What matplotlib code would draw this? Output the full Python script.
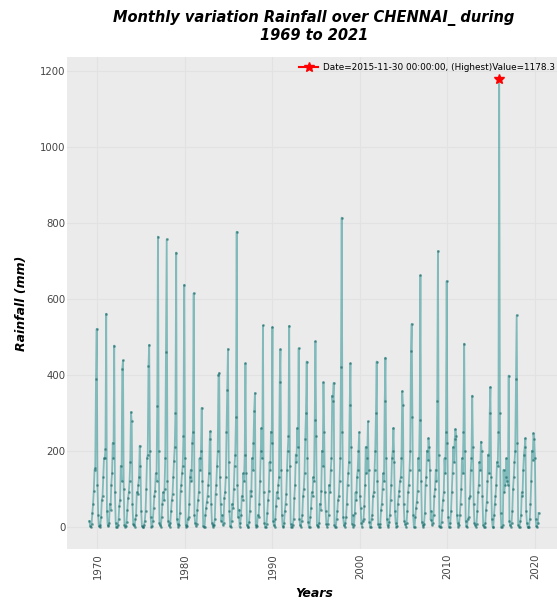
import pandas as pd
import matplotlib
matplotlib.use("Agg")
import matplotlib.pyplot as plt

# monthly rainfall (mm), Jan..Dec
start_month = "1969-01"
rain_1969_1979 = [
    15, 2, 0, 8, 35, 60, 95, 150, 155, 390, 521, 110,
    30, 1, 0, 5, 25, 70, 80, 130, 180, 180, 205, 561,
    40, 5, 2, 10, 60, 45, 110, 140, 220, 180, 477, 90,
    10, 0, 0, 3, 20, 55, 70, 160, 120, 414, 438, 100,
    5, 0, 1, 12, 45, 75, 90, 120, 170, 302, 277, 60,
    8, 3, 0, 20, 30, 90, 85, 110, 130, 213, 160, 40,
    2, 0, 0, 5, 15, 40, 100, 180, 190, 422, 479, 200,
    25, 0, 2, 15, 50, 80, 95, 140, 120, 317, 764, 200,
    10, 3, 0, 25, 60, 90, 70, 100, 180, 461, 757, 120,
    15, 5, 0, 10, 40, 70, 85, 130, 174, 210, 300, 722,
    20, 8, 0, 5, 35, 95, 110, 140, 160, 240, 637, 180,
]
rain_1980_1989 = [
    5, 0, 1, 20, 25, 60, 130, 150, 120, 220, 250, 615,
    30, 10, 2, 8, 45, 70, 90, 180, 150, 200, 313, 120,
    2, 0, 0, 30, 50, 65, 80, 110, 140, 230, 251, 60,
    10, 3, 0, 5, 20, 85, 110, 160, 200, 400, 405, 130,
    60, 15, 30, 5, 10, 75, 90, 130, 250, 360, 468, 170,
    40, 2, 0, 15, 60, 50, 100, 160, 190, 290, 777, 110,
    25, 45, 0, 10, 30, 80, 70, 140, 120, 190, 430, 140,
    5, 0, 0, 12, 40, 95, 80, 180, 150, 220, 304, 352,
    3, 0, 2, 30, 25, 60, 120, 200, 260, 180, 530, 90,
    10, 0, 0, 8, 35, 70, 95, 170, 150, 250, 220, 526,
]
rain_1990_1999 = [
    15, 5, 0, 20, 55, 90, 75, 110, 130, 380, 467, 150,
    30, 2, 0, 10, 40, 60, 85, 150, 200, 240, 529, 160,
    8, 0, 0, 5, 20, 75, 110, 190, 170, 260, 210, 470,
    20, 3, 0, 15, 30, 80, 100, 140, 230, 300, 435, 180,
    12, 0, 0, 25, 50, 90, 80, 130, 120, 280, 488, 240,
    5, 0, 2, 10, 60, 45, 95, 200, 160, 380, 250, 90,
    40, 8, 0, 8, 30, 110, 90, 150, 180, 345, 330, 379,
    3, 0, 0, 20, 40, 70, 80, 120, 180, 420, 814, 250,
    25, 5, 0, 10, 25, 60, 110, 140, 170, 320, 430, 210,
    8, 30, 0, 5, 35, 90, 70, 130, 150, 200, 249, 80,
]
rain_2000_2009 = [
    50, 10, 0, 15, 20, 55, 110, 210, 140, 180, 277, 150,
    12, 0, 0, 20, 30, 80, 90, 150, 200, 300, 435, 120,
    6, 0, 0, 8, 45, 60, 100, 140, 120, 330, 445, 180,
    20, 3, 0, 12, 30, 70, 110, 180, 200, 260, 170, 40,
    10, 0, 2, 60, 80, 95, 120, 130, 180, 357, 320, 60,
    15, 8, 0, 10, 40, 90, 110, 150, 200, 462, 534, 290,
    30, 0, 0, 25, 50, 65, 95, 180, 150, 282, 662, 120,
    12, 5, 0, 8, 35, 110, 130, 200, 175, 233, 210, 150,
    18, 40, 5, 10, 30, 80, 100, 150, 120, 330, 726, 190,
    2, 0, 0, 12, 45, 70, 90, 180, 140, 250, 647, 220,
]
rain_2010_2020 = [
    25, 0, 0, 10, 40, 90, 140, 210, 170, 230, 257, 240,
    30, 10, 0, 5, 30, 60, 100, 180, 140, 250, 482, 200,
    15, 2, 0, 20, 25, 75, 80, 150, 180, 345, 210, 60,
    10, 5, 0, 8, 40, 90, 110, 170, 150, 224, 200, 80,
    5, 0, 0, 10, 45, 65, 120, 190, 140, 300, 368, 130,
    20, 0, 0, 30, 60, 80, 110, 170, 160, 250, 1178.3, 300,
    35, 0, 0, 5, 150, 90, 110, 130, 180, 120, 110, 398,
    15, 3, 0, 10, 40, 100, 130, 170, 200, 390, 557, 220,
    5, 0, 0, 15, 30, 90, 80, 150, 190, 210, 233, 40,
    10, 0, 0, 0, 20, 60, 120, 200, 175, 246, 230, 180,
    20, 2, 0, 10, 36,
]

rain = rain_1969_1979 + rain_1980_1989 + rain_1990_1999 + rain_2000_2009 + rain_2010_2020
dates = pd.date_range(start_month, periods=len(rain), freq="ME")
df = pd.DataFrame({"Date": dates, "Rainfall": rain})

top = df.loc[df["Rainfall"].idxmax()]

fig = plt.figure(figsize=(5.57, 6.03), dpi=100)
ax = fig.add_axes([67 / 557, 54 / 603, 494 / 557, 492 / 603])
ax.set_facecolor("#ebebeb")
for s in ax.spines.values():
    s.set_visible(False)
ax.grid(True, color="#e2e2e2", linewidth=0.8)
ax.set_axisbelow(True)

ax.plot(df["Date"], df["Rainfall"], color="teal", alpha=0.45, linewidth=1.3,
        marker=".", markersize=2.2, markeredgecolor="#1b6b6b", markerfacecolor="#1b6b6b")
ax.plot(top["Date"], top["Rainfall"], marker="*", color="red", markersize=7,
        label=f"Date={top['Date']}, (Highest)Value={top['Rainfall']}")

ax.legend(loc="upper right", frameon=False, fontsize=6.4, borderaxespad=0.3,
          handletextpad=0.5, handlelength=2.2)

ax.set_yticks([0, 200, 400, 600, 800, 1000, 1200])
ax.tick_params(axis="both", length=0, labelsize=7.3, labelcolor="#444444")
ax.tick_params(axis="y", pad=1)
ax.tick_params(axis="x", pad=3)
plt.setp(ax.get_xticklabels(), rotation=90)

ax.set_title("Monthly variation Rainfall over CHENNAI_ during\n1969 to 2021",
             fontsize=10.5, fontweight="bold", fontstyle="italic", pad=12)
ax.set_xlabel("Years", fontsize=9, fontweight="bold", fontstyle="italic", labelpad=6)
ax.set_ylabel("Rainfall (mm)", fontsize=9, fontweight="bold", fontstyle="italic", labelpad=9)

fig.savefig("out.png", dpi=100)
